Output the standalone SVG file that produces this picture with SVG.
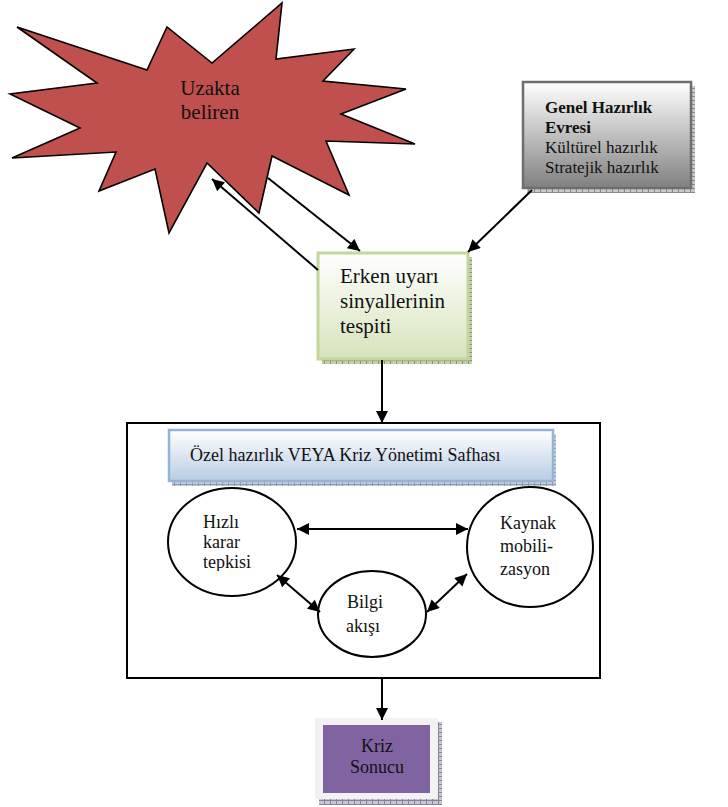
<svg xmlns="http://www.w3.org/2000/svg" width="728" height="807" viewBox="0 0 728 807">
<style>
text{font-family:"Liberation Serif","Times New Roman",serif;fill:#111}
.ln{stroke:#000;stroke-width:2;fill:none}
.ell{fill:#fff;stroke:#000;stroke-width:2}
</style>
<defs>
<marker id="ah" viewBox="0 0 10 10" refX="10" refY="5" markerWidth="13" markerHeight="12" markerUnits="userSpaceOnUse" orient="auto-start-reverse"><path d="M0,0 L10,5 L0,10 z" fill="#000"/></marker>
<linearGradient id="gGray" x1="0" y1="0" x2="0" y2="1"><stop offset="0" stop-color="#ffffff"/><stop offset="1" stop-color="#808080"/></linearGradient>
<linearGradient id="gGreen" x1="0" y1="0" x2="0" y2="1"><stop offset="0" stop-color="#ffffff"/><stop offset="1" stop-color="#d6e3bc"/></linearGradient>
<linearGradient id="gBlue" x1="0" y1="0" x2="0" y2="1"><stop offset="0" stop-color="#ffffff"/><stop offset="1" stop-color="#b8cce4"/></linearGradient>
<pattern id="hGray" width="6" height="4" patternUnits="userSpaceOnUse"><rect width="6" height="4" fill="#c8c8c8"/><path d="M0 0.5H6M0.5 0V4" stroke="#8a8a8a" stroke-width="1"/></pattern>
<pattern id="hGreen" width="6" height="4" patternUnits="userSpaceOnUse"><rect width="6" height="4" fill="#c4ccae"/><path d="M0 0.5H6M0.5 0V4" stroke="#8b9570" stroke-width="1"/></pattern>
<pattern id="hBlue" width="6" height="4" patternUnits="userSpaceOnUse"><rect width="6" height="4" fill="#c5cfdc"/><path d="M0 0.5H6M0.5 0V4" stroke="#8d9bb0" stroke-width="1"/></pattern>
<pattern id="hPurple" width="6" height="4" patternUnits="userSpaceOnUse"><rect width="6" height="4" fill="#c9c3d2"/><path d="M0 0.5H6M0.5 0V4" stroke="#8a8296" stroke-width="1"/></pattern>
<clipPath id="clipH"><rect x="195" y="505" width="80" height="66"/></clipPath>
</defs>

<g id="star">
<polygon points="17,27 147,70 167,27 212,63 282,3 276,59 354,49 323,81 406,89 341,114 415,144 326,141 349,195 272,156 259,213 207,163 169,233 155,169 99,191 116,152 12,158 80,128 10,94 97,83" fill="#c0504d" stroke="#000" stroke-width="1.6" stroke-linejoin="miter"/>
<text x="210" y="95" font-size="21" text-anchor="middle">Uzakta</text>
<text x="210" y="119" font-size="21" text-anchor="middle">beliren</text>
</g>

<g id="genel">
<rect x="527" y="86" width="168" height="107" fill="url(#hGray)"/>
<rect x="523" y="82" width="168" height="106" fill="url(#gGray)" stroke="#6e6e6e" stroke-width="2.5"/>
<text x="545" y="113" font-size="17" font-weight="bold">Genel Hazırlık</text>
<text x="545" y="133" font-size="17" font-weight="bold">Evresi</text>
<text x="545" y="153" font-size="17">Kültürel hazırlık</text>
<text x="545" y="173" font-size="17">Stratejik hazırlık</text>
</g>

<g id="erken">
<rect x="322" y="257" width="150" height="107" fill="url(#hGreen)"/>
<rect x="318" y="253" width="150" height="106" fill="url(#gGreen)" stroke="#c3d69b" stroke-width="3"/>
<text x="340" y="283" font-size="21">Erken uyarı</text>
<text x="340" y="308" font-size="21">sinyallerinin</text>
<text x="340" y="333" font-size="21">tespiti</text>
</g>

<g id="ozel">
<rect x="127" y="423" width="473" height="255" fill="#fff" stroke="#000" stroke-width="2"/>
<rect x="172" y="434" width="384" height="52" fill="url(#hBlue)"/>
<rect x="169" y="430" width="384" height="51" fill="url(#gBlue)" stroke="#95b3d7" stroke-width="2.5"/>
<text x="190" y="461" font-size="18">Özel hazırlık VEYA Kriz Yönetimi Safhası</text>
</g>

<g id="hizli">
<ellipse cx="232" cy="542" rx="64" ry="54" class="ell"/>
<g clip-path="url(#clipH)">
<text x="203" y="528" font-size="18">Hızlı</text>
<text x="203" y="548" font-size="18">karar</text>
<text x="203" y="568" font-size="18">tepkisi</text>
</g>
</g>

<g id="kaynak">
<ellipse cx="530" cy="547" rx="63" ry="60" class="ell"/>
<text x="500" y="529" font-size="18">Kaynak</text>
<text x="500" y="552" font-size="18">mobili-</text>
<text x="500" y="575" font-size="18">zasyon</text>
</g>

<g id="bilgi">
<ellipse cx="372" cy="614" rx="54" ry="43" class="ell"/>
<text x="347" y="608" font-size="18">Bilgi</text>
<text x="346" y="632" font-size="18">akışı</text>
</g>

<g id="kriz">
<rect x="319" y="722" width="123" height="83" fill="url(#hPurple)"/>
<rect x="315" y="718" width="123" height="81" fill="#f2f2f2"/>
<rect x="323" y="725" width="107" height="68" fill="#8064a2"/>
<text x="377" y="752" font-size="18" text-anchor="middle">Kriz</text>
<text x="377" y="773" font-size="18" text-anchor="middle">Sonucu</text>
</g>

<g id="connectors">
<path class="ln" d="M268,178 L360,251" marker-end="url(#ah)"/>
<path class="ln" d="M318,270 L212,179" marker-end="url(#ah)"/>
<path class="ln" d="M532,190 L468,252" marker-end="url(#ah)"/>
<path class="ln" d="M382,360 L382,423" marker-end="url(#ah)"/>
<path class="ln" d="M382,679 L382,720" marker-end="url(#ah)"/>
<path class="ln" d="M297,529 L468,529" marker-start="url(#ah)" marker-end="url(#ah)"/>
<path class="ln" d="M277,575 L320,612" marker-start="url(#ah)" marker-end="url(#ah)"/>
<path class="ln" d="M427,612 L467,574" marker-start="url(#ah)" marker-end="url(#ah)"/>
</g>
</svg>
